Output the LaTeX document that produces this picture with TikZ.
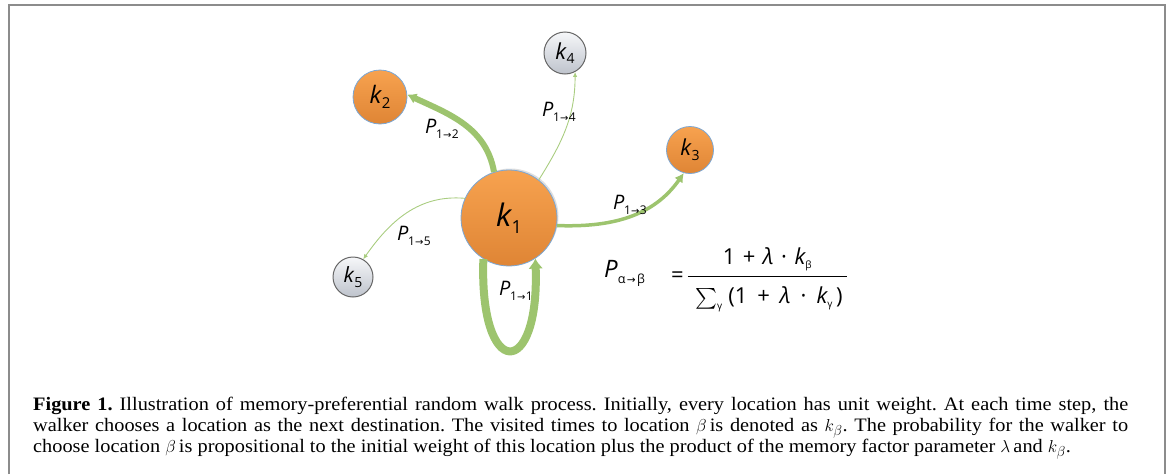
\documentclass[tikz,border=0pt]{standalone}
\usepackage{amsmath}
\usepackage{fontspec}
\setmainfont{Liberation Serif}[FakeStretch=1.07]
\newfontfamily\lab{Open Sans}
\newfontfamily\dv{DejaVu Sans}
\usetikzlibrary{arrows.meta,shadows}
\definecolor{gr}{HTML}{9DC46E}
\definecolor{grl}{HTML}{A9CD80}
\definecolor{or1}{HTML}{F7A24F}
\definecolor{or2}{HTML}{DF8535}
\definecolor{nedge}{HTML}{7AA7D6}
\definecolor{gy1}{HTML}{F6F7F9}
\definecolor{gy2}{HTML}{BEC3CC}
\definecolor{frame}{HTML}{8C8C8C}
\newcommand\Plab[2]{{\itshape P}\kern-0.5pt\raisebox{-5.5pt}{\fontsize{12}{12}\selectfont #1\kern0.3pt{\dv\fontsize{10}{10}\selectfont →}\kern0.3pt#2}}
\newcommand\knode[2]{{\itshape k}\kern0.5pt\raisebox{-0.4ex}{\fontsize{#2}{#2}\selectfont #1}}
\newcommand\mysub[1]{\raisebox{-3.5pt}{\fontsize{10}{10}\selectfont #1}}
\newcommand\opgap{\hspace{10pt}}
\newcommand\numgap{\hspace{7.5pt}}
\begin{document}
\begin{tikzpicture}[x=1pt,y=1pt,
  onode/.style={circle, draw=nedge, line width=0.8pt, top color=or1, bottom color=or2, inner sep=0pt, font=\lab},
  gnode/.style={circle, draw=black!60, line width=1pt, top color=gy1, bottom color=gy2, inner sep=0pt, font=\lab},
  plab/.style={font=\lab\fontsize{20}{22}\selectfont, inner sep=0pt},
  thinedge/.style={draw=grl, line width=0.9pt, -{Latex[length=5pt,width=4.5pt]}},
]
\useasboundingbox (0,0) rectangle (1169,-474);
\draw[frame, line width=2pt] (8.5,-474) -- (8.5,-5) -- (1165,-5) -- (1165,-474);

% nodes
\node[onode, minimum size=96pt, drop shadow={opacity=0.25, shadow xshift=1.5pt, shadow yshift=1.5pt}] (k1) at (509,-218) {\fontsize{31}{31}\selectfont\knode{1}{18}};
\node[onode, minimum size=54pt] (k2) at (380,-97) {\fontsize{24}{24}\selectfont\knode{2}{15}};
\node[onode, minimum size=47pt] (k3) at (690,-150) {\fontsize{22}{22}\selectfont\knode{3}{14}};
\node[gnode, minimum size=42pt] (k4) at (565,-53) {\fontsize{22}{22}\selectfont\knode{4}{14}};
\node[gnode, minimum size=40pt] (k5) at (353,-277) {\fontsize{21}{21}\selectfont\knode{5}{14}};

% edges
\draw[draw=gr, line width=6pt, -{Latex[length=9pt,width=11pt]}] (k1.108) to[out=100, in=-25] (k2.5);
\draw[thinedge] (k1.52) to[out=58, in=-90] (k4.-62);
\draw[draw=gr, line width=3.5pt, -{Latex[length=9pt,width=10pt]}] (k1.-9) to[out=-2, in=-125] (k3.-105);
\draw[thinedge] (k1.156) to[out=175, in=55] (k5.60);
\draw[draw=gr, line width=8pt, -{Latex[length=10pt,width=15pt]}] (k1.-122) .. controls +(-92:122) and +(-88:122) .. (k1.-57);

% edge labels
\node[plab] (l12) at (442,-129) {\Plab{1}{2}};
\node[plab] (l14) at (559,-112) {\Plab{1}{4}};
\node[plab] (l13) at (630,-205) {\Plab{1}{3}};
\node[plab] (l15) at (414,-236) {\Plab{1}{5}};
\node[plab] (l11) at (516,-291) {\Plab{1}{1}};

% formula
\node[font=\lab\fontsize{22}{26}\selectfont, inner sep=0pt, anchor=base west] (form) at (604,-282)
 {\raisebox{5pt}{{\fontsize{24}{24}\selectfont\itshape P}\raisebox{-6.5pt}{\fontsize{12.5}{12.5}\selectfont α\kern1.5pt{\dv\fontsize{10.5}{10.5}\selectfont →}\kern1.5pt β}}\hspace{26pt}=\hspace{3pt}$\dfrac{\rule[-9pt]{0pt}{20pt}\mbox{1\numgap+\numgap{\itshape λ}\numgap·\numgap{\itshape k}\mysub{β}}}{\rule{0pt}{24pt}\kern4pt\textstyle\sum\nolimits_{\mbox{\fontsize{10}{10}\selectfont γ}}\mbox{\kern2pt(1\opgap+\opgap{\itshape λ}\opgap·\opgap{\itshape k}\mysub{γ}\,)\kern4pt}}$};

% caption
\node[anchor=north west, text width=1095pt, align=justify, inner sep=0pt, font=\fontsize{19}{21}\selectfont\frenchspacing] (cap) at (33,-397)
 {\textbf{Figure 1.} Illustration of memory-preferential random walk process. Initially, every location has unit weight. At each time step, the\linebreak
 walker chooses a location as the next destination. The visited times to location $\beta$\,is denoted as $k_\beta$. The probability for the walker to\linebreak
 choose location $\beta$\,is propositional to the initial weight of this location plus the product of the memory factor parameter $\lambda$\,and $k_\beta$.};
\end{tikzpicture}
\end{document}
